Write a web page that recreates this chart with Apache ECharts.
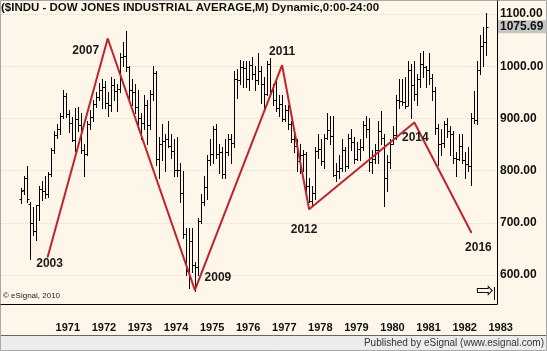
<!DOCTYPE html>
<html>
<head>
<meta charset="utf-8">
<script src="https://cdn.jsdelivr.net/npm/echarts@6/dist/echarts.min.js"></script>
<style>
  html, body { margin: 0; padding: 0; background: #fdf6e9; }
  #chart { width: 547px; height: 351px; }
</style>
</head>
<body>
<div id="chart"></div>
<script>
// axis months: Aug 1969 .. Apr 1983, bars start Feb 1970
var firstYear = 1969, firstMonth = 8, monthCount = 165;
var barStart = 6; // index of 1970-02
var yearTicks = ['1971','1972','1973','1974','1975','1976','1977','1978','1979','1980','1981','1982','1983'];
var priceTicks = [600, 700, 800, 900, 1000, 1100];

// monthly OHLC, Feb 1970 .. Jan 1983
var opens = [
  745, 762, 786, 736, 700, 684, 734, 765, 761, 756, 794,
  839, 868, 879, 904, 942, 908, 891, 858, 898, 887, 839, 831,
  890, 902, 928, 941, 954, 961, 929, 925, 964, 953, 956, 1018,
  1020, 999, 955, 951, 921, 901, 892, 926, 888, 947, 987, 822,
  851, 856, 861, 847, 837, 802, 802, 757, 679, 608, 666, 619,
  616, 704, 739, 768, 821, 832, 879, 832, 835, 794, 836, 861,
  852, 975, 973, 999, 997, 975, 1003, 985, 974, 990, 965, 947,
  1005, 954, 936, 919, 927, 899, 916, 890, 861, 847, 818, 830,
  831, 770, 742, 757, 837, 841, 819, 862, 877, 866, 792, 799,
  805, 839, 809, 862, 855, 822, 842, 846, 888, 879, 816, 822,
  839, 876, 863, 786, 817, 851, 868, 935, 933, 932, 924, 993,
  964, 947, 975, 1004, 998, 992, 977, 952, 881, 850, 853, 889,
  875, 871, 824, 823, 848, 820, 812, 809, 901, 896, 992, 1039,
  1047
];
var highs = [
  766, 790, 808, 740, 731, 735, 770, 780, 790, 797, 843,
  875, 890, 910, 955, 948, 916, 903, 920, 922, 910, 850, 895,
  917, 935, 950, 968, 975, 972, 950, 980, 975, 965, 1025, 1046,
  1068, 1000, 975, 965, 955, 910, 945, 935, 955, 1000, 990, 865,
  890, 870, 895, 870, 860, 865, 815, 800, 690, 690, 690, 625,
  710, 755, 790, 830, 860, 885, 890, 850, 845, 860, 870, 870,
  990, 995, 1012, 1010, 1010, 1010, 1018, 1000, 1025, 1000, 980, 1010,
  1015, 965, 975, 945, 945, 925, 925, 895, 880, 860, 850, 840,
  835, 785, 770, 845, 870, 860, 870, 910, 905, 905, 815, 830,
  860, 845, 870, 880, 865, 855, 860, 895, 905, 900, 840, 850,
  895, 915, 870, 830, 860, 885, 945, 975, 975, 980, 1010, 1005,
  1010, 985, 1025, 1030, 1000, 1025, 985, 960, 890, 880, 895, 900,
  885, 875, 835, 870, 870, 835, 845, 911, 953, 1010, 1060, 1075,
  1102
];
var lows = [
  738, 756, 740, 631, 677, 667, 705, 744, 747, 750, 790,
  833, 862, 871, 900, 903, 873, 856, 838, 875, 833, 790, 830,
  880, 895, 922, 935, 920, 920, 905, 915, 935, 915, 950, 1000,
  990, 940, 925, 910, 880, 860, 880, 850, 880, 935, 810, 785,
  820, 800, 845, 825, 790, 790, 740, 670, 600, 575, 605, 570,
  600, 700, 735, 745, 810, 815, 825, 795, 785, 785, 830, 815,
  845, 940, 965, 960, 960, 955, 975, 955, 965, 930, 920, 945,
  950, 925, 915, 905, 895, 895, 880, 855, 835, 800, 795, 800,
  760, 740, 735, 745, 825, 810, 805, 860, 850, 790, 780, 785,
  800, 800, 805, 840, 815, 820, 820, 840, 865, 800, 795, 815,
  815, 850, 733, 760, 805, 850, 860, 920, 925, 920, 925, 900,
  935, 925, 960, 980, 960, 965, 935, 870, 810, 830, 845, 865,
  830, 815, 790, 820, 815, 785, 800, 772, 891, 890, 985, 1000,
  1021
];
var closes = [
  760, 785, 745, 700, 684, 734, 765, 761, 756, 794, 839,
  868, 879, 904, 942, 908, 891, 858, 898, 887, 839, 831, 890,
  902, 928, 941, 954, 961, 929, 925, 964, 953, 956, 1018, 1020,
  999, 955, 951, 921, 901, 892, 926, 888, 947, 987, 822, 851,
  856, 861, 847, 837, 802, 802, 757, 679, 608, 666, 619, 616,
  704, 739, 768, 821, 832, 879, 832, 835, 794, 836, 861, 852,
  975, 973, 999, 997, 975, 1003, 985, 974, 990, 965, 947, 1005,
  954, 936, 919, 927, 899, 916, 890, 861, 847, 818, 830, 831,
  770, 742, 757, 837, 841, 819, 862, 877, 866, 792, 799, 805,
  839, 809, 862, 855, 822, 842, 846, 888, 879, 816, 822, 839,
  876, 863, 786, 817, 851, 868, 935, 933, 932, 924, 993, 964,
  947, 975, 1004, 998, 992, 977, 952, 881, 850, 853, 889, 875,
  871, 824, 823, 848, 820, 812, 809, 901, 896, 992, 1039, 1047,
  1075.69
];

// zigzag analog pivots
var pivotMonths = ['1970-11', '1972-07', '1974-12', '1977-05', '1978-02', '1981-01', '1982-08'];
var pivotPrices = [634, 1053, 571, 1002, 726, 892, 681];
var pivotNames = ['2003', '2007', '2009', '2011', '2012', '2014', '2016'];
var pivotOffsets = [[2, 6], [-22, 12], [23, -12], [0, -13], [-5, 20], [1, 15], [7, 15]];

var months = [];
for (var m = 0; m < monthCount; m++) {
  var y = firstYear + Math.floor((firstMonth - 1 + m) / 12);
  var mo = (firstMonth - 1 + m) % 12 + 1;
  months.push(y + '-' + (mo < 10 ? '0' + mo : mo));
}

var bars = opens.map(function(o, i) {
  return [barStart + i, o, highs[i], lows[i], closes[i]];
});
var pivots = pivotMonths.map(function(mo, i) {
  return {
    value: [mo, pivotPrices[i]],
    name: pivotNames[i],
    label: { offset: pivotOffsets[i] }
  };
});
var lastClose = closes[closes.length - 1];

function renderOhlc(params, api) {
  var idx = api.value(0);
  var o = api.coord([idx, api.value(1)]);
  var h = api.coord([idx, api.value(2)]);
  var l = api.coord([idx, api.value(3)]);
  var c = api.coord([idx, api.value(4)]);
  var x = Math.round(h[0]) + 0.5;
  var oy = Math.round(o[1]) + 0.5, cy = Math.round(c[1]) + 0.5;
  var st = { stroke: '#000', lineWidth: 1 };
  return {
    type: 'group',
    children: [
      { type: 'line', shape: { x1: x, y1: Math.round(h[1]), x2: x, y2: Math.round(l[1]) + 1 }, style: st },
      { type: 'line', shape: { x1: x - 2, y1: oy, x2: x, y2: oy }, style: st },
      { type: 'line', shape: { x1: x, y1: cy, x2: x + 2, y2: cy }, style: st }
    ]
  };
}

var chart = echarts.init(document.getElementById('chart'), null, { renderer: 'canvas' });
chart.setOption({
  animation: false,
  backgroundColor: '#fdf6e9',
  textStyle: { fontFamily: 'Liberation Sans, Arial, sans-serif' },
  title: {
    text: '($INDU - DOW JONES INDUSTRIAL AVERAGE,M) Dynamic,0:00-24:00',
    left: 1, top: 2, padding: 0,
    textStyle: { fontSize: 11.5, fontWeight: 'bold', color: '#111' }
  },
  grid: { left: 1, right: 50, top: 1, bottom: 47 },
  xAxis: {
    type: 'category',
    data: months,
    boundaryGap: true,
    axisLine: { lineStyle: { color: '#000', width: 1 } },
    axisTick: { show: false },
    splitLine: { show: false },
    axisLabel: {
      interval: function(i, v) { return v.slice(5) === '01' && yearTicks.indexOf(v.slice(0, 4)) >= 0; },
      formatter: function(v) { return v.slice(0, 4); },
      align: 'left', padding: [0, 0, 0, 2], margin: 18,
      fontSize: 11, fontWeight: 'bold', color: '#111'
    }
  },
  yAxis: {
    type: 'value',
    position: 'right',
    min: 544.4, max: 1124.9,
    axisLine: { show: true, lineStyle: { color: '#000', width: 1 } },
    axisTick: { show: false, customValues: priceTicks },
    splitLine: { show: true, lineStyle: { color: '#e4dccb', type: 'dotted' } },
    axisLabel: {
      customValues: priceTicks,
      formatter: function(v) { return v.toFixed(2); },
      margin: 3, fontSize: 12, fontWeight: 'bold', color: '#111'
    }
  },
  series: [
    {
      type: 'custom',
      renderItem: renderOhlc,
      encode: { x: 0, y: [1, 2, 3, 4] },
      data: bars,
      z: 2
    },
    {
      type: 'line',
      data: pivots,
      symbol: 'circle', symbolSize: 1,
      itemStyle: { color: '#c0242b' },
      lineStyle: { color: '#c0242b', width: 2 },
      label: {
        show: true, position: 'inside',
        formatter: '{b}',
        fontSize: 12, fontWeight: 'bold', color: '#1a1a1a'
      },
      z: 3,
      markLine: {
        silent: true, symbol: 'none',
        lineStyle: { color: 'rgba(0,0,0,0)', width: 1 },
        data: [{ yAxis: lastClose }],
        label: {
          show: true, position: 'end', distance: 1,
          formatter: function() { return lastClose.toFixed(2); },
          backgroundColor: '#c6c6c6', padding: [1, 3, 0, 2],
          fontSize: 12, fontWeight: 'bold', color: '#111'
        }
      }
    }
  ],
  graphic: [
    { type: 'text', left: 3, top: 292, style: { text: '© eSignal, 2010', fontSize: 8, fill: '#222', fontFamily: 'Liberation Sans' } },
    { type: 'text', left: 476, top: 281, style: { text: '⇨', fontSize: 21, fill: '#111', fontFamily: 'DejaVu Sans' } },
    { type: 'line', shape: { x1: 494.5, y1: 287, x2: 494.5, y2: 300 }, style: { stroke: '#111', lineWidth: 1 } },
    { type: 'rect', shape: { x: 0, y: 336, width: 547, height: 15 }, style: { fill: '#ececec' } },
    { type: 'line', shape: { x1: 0, y1: 335.5, x2: 547, y2: 335.5 }, style: { stroke: '#666', lineWidth: 1 } },
    { type: 'text', right: 3, top: 338, style: { text: 'Published by eSignal (www.esignal.com)', fontSize: 10, fill: '#333', fontFamily: 'Liberation Sans' } },
    { type: 'rect', shape: { x: 0.5, y: 0.5, width: 546, height: 350 }, style: { fill: 'none', stroke: '#a8a8a8', lineWidth: 1 } }
  ]
});
window.addEventListener('resize', function() { chart.resize(); });
</script>
</body>
</html>
